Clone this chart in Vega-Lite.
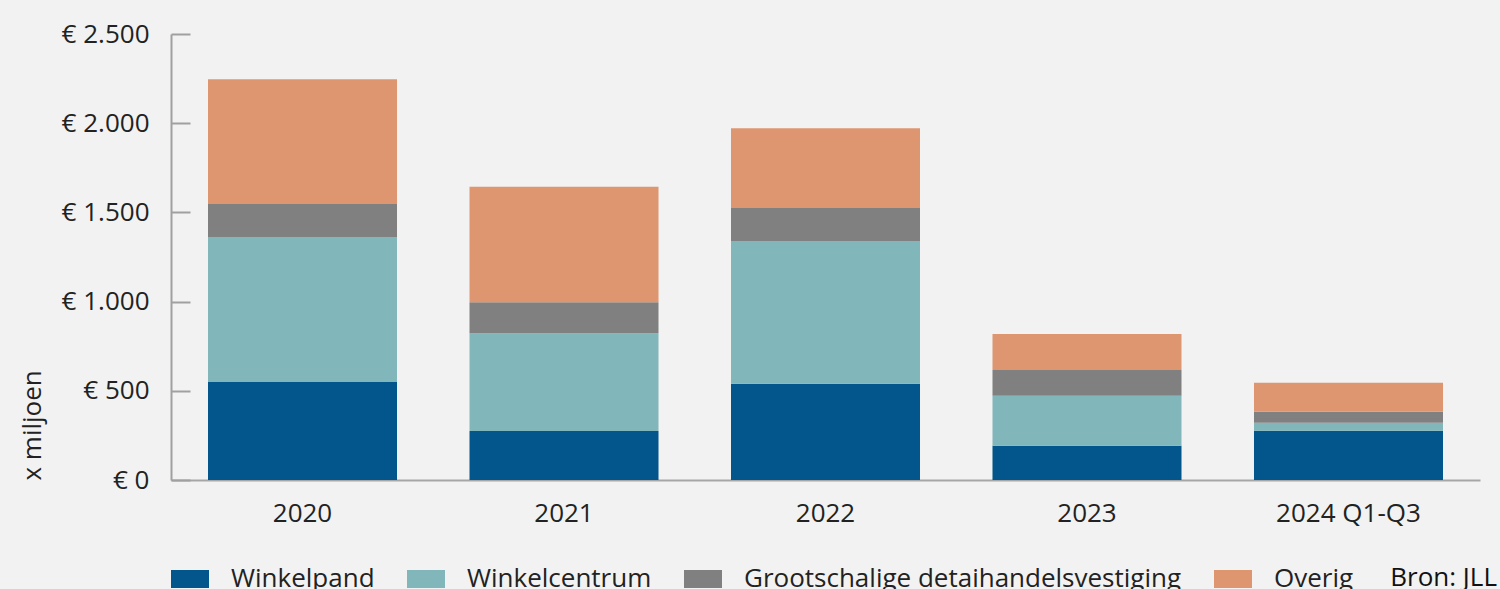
{
  "$schema": "https://vega.github.io/schema/vega-lite/v6.json",
  "width": 1309,
  "height": 446,
  "autosize": {"type": "none"},
  "padding": {"left": 171, "top": 34, "right": 20, "bottom": 109},
  "background": "#f2f2f2",
  "title": {
    "text": "Bron: JLL",
    "orient": "bottom",
    "anchor": "end",
    "frame": "group",
    "font": "Open Sans",
    "fontSize": 26,
    "fontWeight": "normal",
    "color": "#111111",
    "baseline": "top",
    "dx": 17,
    "dy": -27,
    "offset": 0
  },
  "config": {
    "view": {"stroke": null},
    "font": "Open Sans"
  },
  "data": {
    "values": [
      {"jaar": "2020", "type": "Winkelpand", "volgorde": 1, "waarde": 550},
      {"jaar": "2020", "type": "Winkelcentrum", "volgorde": 2, "waarde": 812},
      {"jaar": "2020", "type": "Grootschalige detaihandelsvestiging", "volgorde": 3, "waarde": 185},
      {"jaar": "2020", "type": "Overig", "volgorde": 4, "waarde": 700},
      {"jaar": "2021", "type": "Winkelpand", "volgorde": 1, "waarde": 274},
      {"jaar": "2021", "type": "Winkelcentrum", "volgorde": 2, "waarde": 548},
      {"jaar": "2021", "type": "Grootschalige detaihandelsvestiging", "volgorde": 3, "waarde": 174},
      {"jaar": "2021", "type": "Overig", "volgorde": 4, "waarde": 648},
      {"jaar": "2022", "type": "Winkelpand", "volgorde": 1, "waarde": 539},
      {"jaar": "2022", "type": "Winkelcentrum", "volgorde": 2, "waarde": 800},
      {"jaar": "2022", "type": "Grootschalige detaihandelsvestiging", "volgorde": 3, "waarde": 185},
      {"jaar": "2022", "type": "Overig", "volgorde": 4, "waarde": 448},
      {"jaar": "2023", "type": "Winkelpand", "volgorde": 1, "waarde": 192},
      {"jaar": "2023", "type": "Winkelcentrum", "volgorde": 2, "waarde": 280},
      {"jaar": "2023", "type": "Grootschalige detaihandelsvestiging", "volgorde": 3, "waarde": 145},
      {"jaar": "2023", "type": "Overig", "volgorde": 4, "waarde": 202},
      {"jaar": "2024 Q1-Q3", "type": "Winkelpand", "volgorde": 1, "waarde": 276},
      {"jaar": "2024 Q1-Q3", "type": "Winkelcentrum", "volgorde": 2, "waarde": 45},
      {"jaar": "2024 Q1-Q3", "type": "Grootschalige detaihandelsvestiging", "volgorde": 3, "waarde": 62},
      {"jaar": "2024 Q1-Q3", "type": "Overig", "volgorde": 4, "waarde": 162}
    ]
  },
  "mark": {"type": "bar"},
  "encoding": {
    "x": {
      "field": "jaar",
      "type": "nominal",
      "sort": null,
      "scale": {"paddingInner": 0.2772, "paddingOuter": 0.1415},
      "axis": {
        "title": null,
        "labelAngle": 0,
        "labelFont": "Open Sans",
        "labelFontSize": 26,
        "labelColor": "#222222",
        "labelPadding": 20,
        "ticks": false,
        "domainColor": "#a6a6a6",
        "domainWidth": 2,
        "grid": false
      }
    },
    "y": {
      "field": "waarde",
      "type": "quantitative",
      "stack": "zero",
      "scale": {"domain": [0, 2500], "nice": false},
      "axis": {
        "title": "x miljoen",
        "titleFont": "Open Sans",
        "titleFontSize": 26,
        "titleFontWeight": "normal",
        "titleColor": "#222222",
        "titleAnchor": "start",
        "titlePadding": 16,
        "values": [0, 500, 1000, 1500, 2000, 2500],
        "labelExpr": "'€ ' + replace(format(datum.value, ','), ',', '.')",
        "labelFont": "Open Sans",
        "labelFontSize": 26,
        "labelColor": "#222222",
        "labelPadding": 41,
        "tickSize": -19,
        "tickWidth": 2,
        "tickColor": "#a0a0a0",
        "domainColor": "#a0a0a0",
        "domainWidth": 2,
        "grid": false
      }
    },
    "color": {
      "field": "type",
      "type": "nominal",
      "scale": {
        "domain": ["Winkelpand", "Winkelcentrum", "Grootschalige detaihandelsvestiging", "Overig"],
        "range": ["#02568b", "#81b6bb", "#808080", "#de9670"]
      },
      "legend": {
        "title": null,
        "orient": "none",
        "direction": "horizontal",
        "legendX": 0,
        "legendY": 526,
        "padding": 0,
        "symbolType": "M-1,-0.4737H1V0.4737H-1Z",
        "symbolSize": 1444,
        "symbolStrokeWidth": 0,
        "symbolOpacity": 1,
        "labelFont": "Open Sans",
        "labelFontSize": 26,
        "labelColor": "#222222",
        "labelOffset": 22,
        "columnPadding": 32,
        "labelLimit": 600
      }
    },
    "order": {"field": "volgorde", "type": "quantitative"}
  }
}
